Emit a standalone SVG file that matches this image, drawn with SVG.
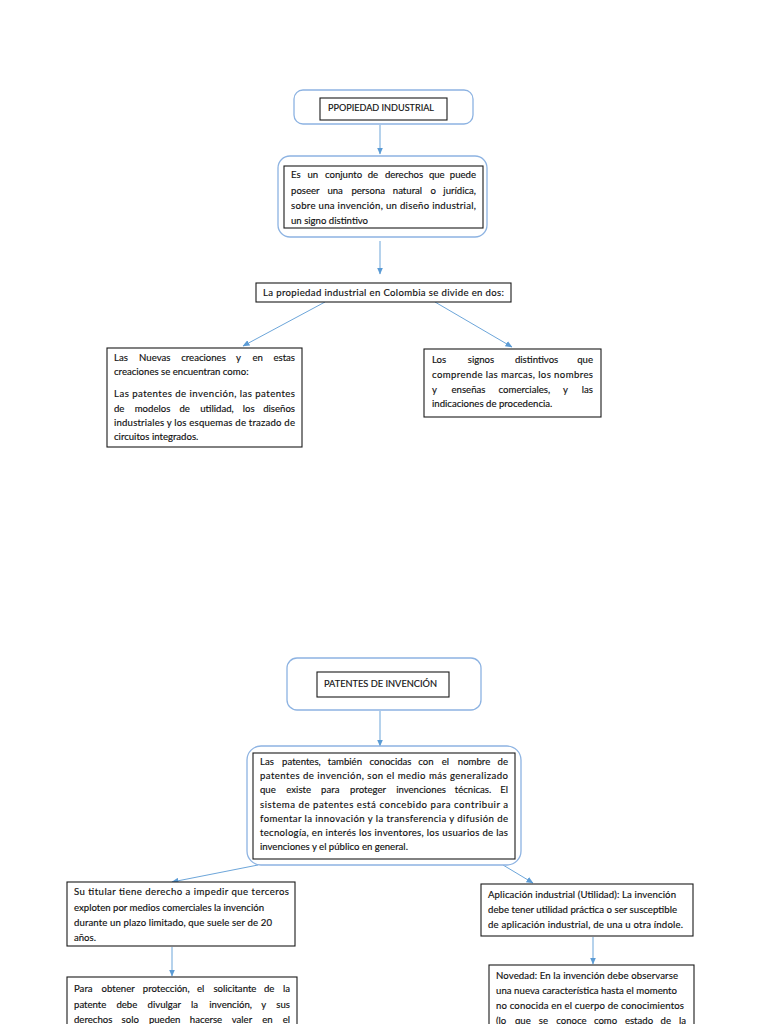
<svg xmlns="http://www.w3.org/2000/svg" width="768" height="1024" viewBox="0 0 768 1024">
<defs>
<style>
.outer{fill:#fff;stroke:#8db3e2;stroke-width:1.3}
.box{fill:#fff;stroke:#1a1a1a;stroke-width:1.1}
.t{font-family:Lato,"Liberation Sans",sans-serif;font-size:9.6px;fill:#111;stroke:#111;stroke-width:0.15}
.e{text-anchor:end}
.c{fill:none;stroke:#5b9bd5;stroke-width:0.9}
</style>
<marker id="ah" markerWidth="7" markerHeight="6" refX="6.5" refY="3" orient="auto" markerUnits="userSpaceOnUse">
<path d="M0,0 L7,3 L0,6 Z" fill="#5b9bd5"/>
</marker>
</defs>
<rect width="768" height="1024" fill="#fff"/>

<g id="connectors">
<line class="c" x1="380" y1="125" x2="380" y2="154" marker-end="url(#ah)"/>
<line class="c" x1="380" y1="241" x2="380" y2="274" marker-end="url(#ah)"/>
<line class="c" x1="325" y1="302" x2="243" y2="346" marker-end="url(#ah)"/>
<line class="c" x1="435" y1="302" x2="512" y2="347" marker-end="url(#ah)"/>
<line class="c" x1="380" y1="711" x2="380" y2="746" marker-end="url(#ah)"/>
<line class="c" x1="258" y1="865" x2="172" y2="882" marker-end="url(#ah)"/>
<line class="c" x1="503" y1="865" x2="533" y2="883" marker-end="url(#ah)"/>
<line class="c" x1="172" y1="947" x2="172" y2="976" marker-end="url(#ah)"/>
<line class="c" x1="593" y1="937" x2="593" y2="964" marker-end="url(#ah)"/>
</g>

<g id="n1">
<rect class="outer" x="294" y="90" width="179" height="34" rx="9"/>
<rect class="box" x="320" y="98" width="127" height="22"/>
<text class="t" x="328" y="111" textLength="106" lengthAdjust="spacingAndGlyphs">PPOPIEDAD INDUSTRIAL</text>
</g>

<g id="n2">
<rect class="outer" x="278" y="156" width="209" height="81" rx="12"/>
<rect class="box" x="284" y="166" width="199" height="62"/>
<text class="t" y="178"><tspan x="291">Es </tspan><tspan x="307.5">un </tspan><tspan x="325">conjunto </tspan><tspan x="367.7">de </tspan><tspan x="384.9">derechos </tspan><tspan x="428.9">que </tspan><tspan class="e" x="476">puede</tspan></text>
<text class="t" y="194"><tspan x="291">poseer </tspan><tspan x="327.4">una </tspan><tspan x="351.4">persona </tspan><tspan x="392.8">natural </tspan><tspan x="430.4">o </tspan><tspan class="e" x="476">jurídica,</tspan></text>
<text class="t" x="291" y="209" textLength="185">sobre una invención, un diseño industrial,</text>
<text class="t" x="291" y="224">un signo distintivo</text>
</g>

<g id="n3">
<rect class="box" x="256" y="283" width="255" height="19"/>
<text class="t" x="263" y="296" textLength="241">La propiedad industrial en Colombia se divide en dos:</text>
</g>

<g id="n4">
<rect class="box" x="107" y="348" width="195" height="99"/>
<text class="t" y="361"><tspan x="114">Las </tspan><tspan x="139.1">Nuevas </tspan><tspan x="181.2">creaciones </tspan><tspan x="235.9">y </tspan><tspan x="252.5">en </tspan><tspan class="e" x="295">estas</tspan></text>
<text class="t" x="114" y="375">creaciones se encuentran como:</text>
<text class="t" x="114" y="397" textLength="181">Las patentes de invención, las patentes</text>
<text class="t" y="412"><tspan x="114">de </tspan><tspan x="134.7">modelos </tspan><tspan x="179.5">de </tspan><tspan x="200.2">utilidad, </tspan><tspan x="242.8">los </tspan><tspan class="e" x="295">diseños</tspan></text>
<text class="t" x="114" y="426" textLength="181">industriales y los esquemas de trazado de</text>
<text class="t" x="114" y="440">circuitos integrados.</text>
</g>

<g id="n5">
<rect class="box" x="424" y="349" width="177" height="68"/>
<text class="t" y="363"><tspan x="432">Los </tspan><tspan x="467.8">signos </tspan><tspan x="514.9">distintivos </tspan><tspan class="e" x="593">que</tspan></text>
<text class="t" x="432" y="378" textLength="161">comprende las marcas, los nombres</text>
<text class="t" y="393"><tspan x="432">y </tspan><tspan x="451.5">enseñas </tspan><tspan x="498.6">comerciales, </tspan><tspan x="562.9">y </tspan><tspan class="e" x="593">las</tspan></text>
<text class="t" x="432" y="407">indicaciones de procedencia.</text>
</g>

<g id="n6">
<rect class="outer" x="287" y="658" width="194" height="52" rx="10"/>
<rect class="box" x="317" y="672" width="132" height="25"/>
<text class="t" x="324" y="687" textLength="113" lengthAdjust="spacingAndGlyphs">PATENTES DE INVENCIÓN</text>
</g>

<g id="n7">
<rect class="outer" x="247" y="746" width="274" height="119" rx="14"/>
<rect class="box" x="253" y="753" width="262" height="106"/>
<text class="t" y="765"><tspan x="260">Las </tspan><tspan x="282.1">patentes, </tspan><tspan x="327.8">también </tspan><tspan x="369.6">conocidas </tspan><tspan x="418.3">con </tspan><tspan x="441.8">el </tspan><tspan x="457.8">nombre </tspan><tspan class="e" x="508">de</tspan></text>
<text class="t" x="260" y="779" textLength="248">patentes de invención, son el medio más generalizado</text>
<text class="t" y="793"><tspan x="260">que </tspan><tspan x="286.3">existe </tspan><tspan x="321.1">para </tspan><tspan x="350.1">proteger </tspan><tspan x="396.2">invenciones </tspan><tspan x="454.8">técnicas. </tspan><tspan class="e" x="508">El</tspan></text>
<text class="t" x="260" y="808" textLength="248">sistema de patentes está concebido para contribuir a</text>
<text class="t" x="260" y="822" textLength="248">fomentar la innovación y la transferencia y difusión de</text>
<text class="t" x="260" y="836" textLength="248">tecnología, en interés los inventores, los usuarios de las</text>
<text class="t" x="260" y="850">invenciones y el público en general.</text>
</g>

<g id="n8">
<rect class="box" x="67" y="882" width="228" height="64"/>
<text class="t" x="74" y="895" textLength="215">Su titular tiene derecho a impedir que terceros</text>
<text class="t" x="74" y="911" textLength="190">exploten por medios comerciales la invención</text>
<text class="t" x="74" y="926" textLength="198">durante un plazo limitado, que suele ser de 20</text>
<text class="t" x="74" y="941">años.</text>
</g>

<g id="n9">
<rect class="box" x="67" y="977" width="230" height="60"/>
<text class="t" y="992"><tspan x="74">Para </tspan><tspan x="101.6">obtener </tspan><tspan x="142.8">protección, </tspan><tspan x="197">el </tspan><tspan x="213.4">solicitante </tspan><tspan x="263.9">de </tspan><tspan class="e" x="290">la</tspan></text>
<text class="t" y="1008"><tspan x="74">patente </tspan><tspan x="116.4">debe </tspan><tspan x="147.6">divulgar </tspan><tspan x="191.1">la </tspan><tspan x="209.3">invención, </tspan><tspan x="261.2">y </tspan><tspan class="e" x="290">sus</tspan></text>
<text class="t" y="1023"><tspan x="74">derechos </tspan><tspan x="121.6">solo </tspan><tspan x="148.9">pueden </tspan><tspan x="189.8">hacerse </tspan><tspan x="231.7">valer </tspan><tspan x="262.3">en </tspan><tspan class="e" x="290">el</tspan></text>
</g>

<g id="n10">
<rect class="box" x="481" y="884" width="212" height="52"/>
<text class="t" x="488" y="898" textLength="188">Aplicación industrial (Utilidad): La invención</text>
<text class="t" x="488" y="913" textLength="189">debe tener utilidad práctica o ser susceptible</text>
<text class="t" x="488" y="928" textLength="195">de aplicación industrial, de una u otra índole.</text>
</g>

<g id="n11">
<rect class="box" x="489" y="965" width="205" height="70"/>
<text class="t" x="496" y="979" textLength="182">Novedad: En la invención debe observarse</text>
<text class="t" x="496" y="994" textLength="181">una nueva característica hasta el momento</text>
<text class="t" x="496" y="1009" textLength="188">no conocida en el cuerpo de conocimientos</text>
<text class="t" y="1024"><tspan x="496">(lo </tspan><tspan x="515">que </tspan><tspan x="538.8">se </tspan><tspan x="556.3">conoce </tspan><tspan x="593.9">como </tspan><tspan x="624.9">estado </tspan><tspan x="660.6">de </tspan><tspan class="e" x="686">la</tspan></text>
</g>
</svg>
